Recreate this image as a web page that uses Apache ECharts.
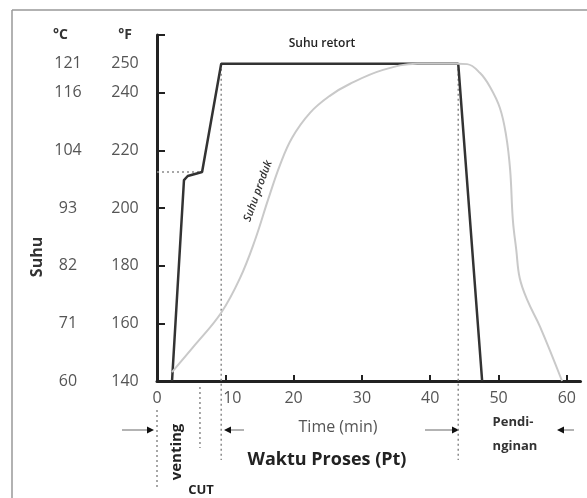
<!DOCTYPE html>
<html>
<head>
<meta charset="utf-8">
<script src="https://cdn.jsdelivr.net/npm/echarts@6/dist/echarts.min.js"></script>
<style>
html,body{margin:0;padding:0;background:#fff;}
#chart{width:587px;height:498px;}
</style>
</head>
<body>
<div id="chart"></div>
<script>
// ---- data ----
const fTickLabels = [140, 160, 180, 200, 220, 240, 250];
const cTickLabels = [60, 71, 82, 93, 104, 116, 121];
const yTickValues = [160, 180, 200, 220, 240, 260];
const xTickLabels = [0, 10, 20, 30, 40, 50, 60];
const xTickValues = [10, 20, 30, 40, 50, 60];

const retortMin = [2.2, 3.95, 4.5, 6.6, 9.4, 44.1, 47.6];
const retortF   = [140, 209.7, 211.1, 212.5, 250, 250, 140];

const produkMin = [2.2, 5.56, 9.37, 12.15, 14.35, 16.25, 18.0, 19.76, 22.4, 25.3, 28.2, 33.1, 38.1, 42.0, 44.1, 45.4, 47.3, 48.75, 50.2, 51.1, 51.7, 52.1, 52.6, 53.1, 54.2, 56.1, 59.3];
const produkF   = [143.1, 152.5, 163.6, 175.7, 188.9, 202.8, 214.9, 224.3, 233.0, 238.9, 243.0, 247.9, 250, 250, 250, 249.9, 246.8, 242, 234.7, 225.3, 213.2, 195.8, 185.4, 175.7, 168.1, 158.7, 140];

// guide lines (dotted), in data units
const guideVentStart = [[0, 129.9], [0, 103.2]];
const guideCut       = [[6.29, 137.9], [6.29, 116.8]];
const guideHoldStart = [[9.4, 250], [9.4, 112.6]];
const guideHoldEnd   = [[44.1, 250], [44.1, 112.6]];
const guideStep      = [[0, 212.5], [6.6, 212.5]];

const zip = (a, b) => a.map((v, i) => [v, b[i]]);

const chart = echarts.init(document.getElementById('chart'), null, {renderer: 'canvas'});
const FONT = 'Open Sans';

const dotted = (name, data) => ({
  name, type: 'line', data, clip: false, symbol: 'none', silent: true,
  lineStyle: {color: '#8a8a8a', width: 1.5, type: [2, 3]}, z: 1
});

const arrow = (x1, x2, y, tip, dir) => ([
  {type: 'line', shape: {x1, y1: y, x2, y2: y}, style: {stroke: '#9a9a9a', lineWidth: 1.5}},
  {type: 'polygon', shape: {points: [[tip, y], [tip - dir * 7, y - 3.5], [tip - dir * 7, y + 3.5]]}, style: {fill: '#111'}}
]);

const option = {
  backgroundColor: '#fff',
  animation: false,
  grid: {left: 157, top: 35, right: 6.5, bottom: 117, containLabel: false},
  xAxis: {
    type: 'value', min: 0, max: 62,
    axisLine: {show: true, onZero: false, lineStyle: {color: '#222', width: 3}},
    axisTick: {show: true, inside: true, length: 6, customValues: xTickValues, lineStyle: {color: '#222', width: 2}},
    axisLabel: {
      show: true, customValues: xTickLabels, margin: 9,
      fontFamily: FONT, fontSize: 16, color: '#555',
      formatter: v => v === 10 ? '{p|10}' : String(v),
      rich: {p: {fontFamily: FONT, fontSize: 16, color: '#555', padding: [0, 0, 0, 14]}}
    },
    splitLine: {show: false}
  },
  yAxis: {
    type: 'value', min: 140, max: 260,
    axisLine: {show: true, onZero: false, lineStyle: {color: '#222', width: 3}},
    axisTick: {show: true, inside: true, length: 8, customValues: yTickValues, lineStyle: {color: '#222', width: 2}},
    axisLabel: {
      show: true, customValues: fTickLabels.concat([260]), margin: 17,
      formatter: v => {
        if (v === 260) return '{hc|°C}{g|}{hf|°F}';
        const i = fTickLabels.indexOf(v);
        return '{c|' + cTickLabels[i] + '}{g|}{f|' + fTickLabels[i] + '}';
      },
      rich: {
        c: {width: 30, align: 'center', fontFamily: FONT, fontSize: 16, color: '#555'},
        g: {width: 27},
        f: {width: 30, align: 'center', fontFamily: FONT, fontSize: 16, color: '#555'},
        hc: {width: 30, align: 'left', fontFamily: FONT, fontSize: 14, fontWeight: 'bold', color: '#333'},
        hf: {width: 30, align: 'left', fontFamily: FONT, fontSize: 14, fontWeight: 'bold', color: '#333'}
      }
    },
    splitLine: {show: false}
  },
  series: [
    dotted('g1', guideVentStart),
    dotted('g2', guideCut),
    dotted('g3', guideHoldStart),
    dotted('g4', guideHoldEnd),
    dotted('g5', guideStep),
    {
      name: 'Suhu retort', type: 'line', data: zip(retortMin, retortF), symbol: 'none',
      lineStyle: {color: '#333', width: 2.5}, z: 3, clip: false
    },
    {
      name: 'Suhu produk', type: 'line', data: zip(produkMin, produkF), symbol: 'none',
      smooth: 0.4,
      lineStyle: {color: '#c9c9c9', width: 2}, z: 4, clip: false
    }
  ],
  graphic: [
    // frame
    {type: 'line', shape: {x1: 12, y1: 10, x2: 587, y2: 10}, style: {stroke: '#999', lineWidth: 1.5}, silent: true},
    {type: 'line', shape: {x1: 12, y1: 10, x2: 12, y2: 498}, style: {stroke: '#999', lineWidth: 1.5}, silent: true},
    // texts
    {type: 'text', x: 37, y: 257, rotation: Math.PI / 2, style: {text: 'Suhu', font: 'bold 16px "Open Sans"', fill: '#333', align: 'center', verticalAlign: 'middle'}},
    {type: 'text', x: 322, y: 44, style: {text: 'Suhu retort', font: '600 12px "Open Sans"', fill: '#222', align: 'center', verticalAlign: 'middle'}},
    {type: 'text', x: 258, y: 191, rotation: 70 * Math.PI / 180, style: {text: 'Suhu produk', font: 'italic 600 11px "Open Sans"', fill: '#333', align: 'center', verticalAlign: 'middle'}},
    {type: 'text', x: 338, y: 427, style: {text: 'Time (min)', font: '16px "Open Sans"', fill: '#555', align: 'center', verticalAlign: 'middle'}},
    {type: 'text', x: 327, y: 460, style: {text: 'Waktu Proses (Pt)', font: 'bold 18px "Open Sans"', fill: '#222', align: 'center', verticalAlign: 'middle'}},
    {type: 'text', x: 177, y: 452, rotation: Math.PI / 2, style: {text: 'venting', font: 'bold 15px "Open Sans"', fill: '#222', align: 'center', verticalAlign: 'middle'}},
    {type: 'text', x: 201, y: 490, style: {text: 'CUT', font: 'bold 13px "Open Sans"', fill: '#222', align: 'center', verticalAlign: 'middle'}},
    {type: 'text', x: 513, y: 422, style: {text: 'Pendi-', font: 'bold 13px "Open Sans"', fill: '#333', align: 'center', verticalAlign: 'middle'}},
    {type: 'text', x: 515, y: 446, style: {text: 'nginan', font: 'bold 13px "Open Sans"', fill: '#333', align: 'center', verticalAlign: 'middle'}}
  ].concat(
    arrow(122, 150, 430, 154, 1),
    arrow(229, 244, 430, 224, -1),
    arrow(425, 454, 430, 459, 1),
    arrow(562, 574, 430, 557, -1)
  )
};
chart.setOption(option);
</script>
</body>
</html>
